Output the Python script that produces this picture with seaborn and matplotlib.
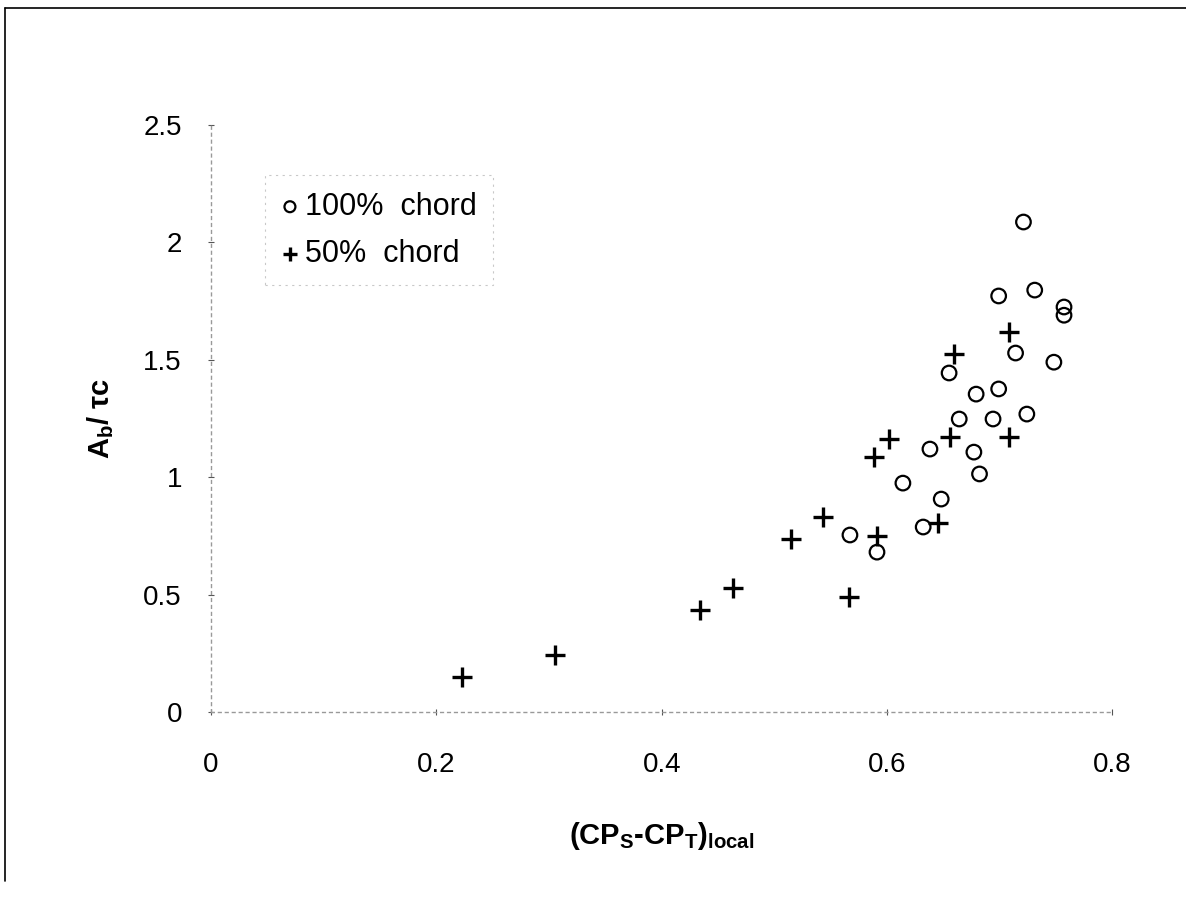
import matplotlib
matplotlib.use("Agg")
import matplotlib.pyplot as plt
import seaborn as sns
import pandas as pd
from matplotlib.lines import Line2D

# 100% chord (circles)
x100 = [0.721, 0.699, 0.731, 0.757, 0.757, 0.714, 0.748, 0.655, 0.679, 0.699,
        0.664, 0.694, 0.724, 0.638, 0.677, 0.682, 0.614, 0.648, 0.567, 0.591, 0.632]
y100 = [2.087, 1.772, 1.797, 1.725, 1.690, 1.529, 1.490, 1.444, 1.354, 1.376,
        1.248, 1.248, 1.269, 1.120, 1.107, 1.014, 0.975, 0.907, 0.754, 0.681, 0.788]

# 50% chord (crosses)
x50 = [0.708, 0.659, 0.602, 0.588, 0.656, 0.708, 0.543, 0.515, 0.463, 0.434,
       0.223, 0.305, 0.591, 0.645, 0.566]
y50 = [1.618, 1.525, 1.163, 1.086, 1.171, 1.171, 0.830, 0.737, 0.528, 0.434,
       0.149, 0.243, 0.750, 0.805, 0.490]

xticks = [0, 0.2, 0.4, 0.6, 0.8]
xticklabels = ["0", "0.2", "0.4", "0.6", "0.8"]
yticks = [0, 0.5, 1, 1.5, 2, 2.5]
yticklabels = ["0", "0.5", "1", "1.5", "2", "2.5"]

sns.set_style("white")
plt.rcParams['font.family'] = ['Liberation Sans', 'DejaVu Sans']
plt.rcParams['mathtext.fontset'] = 'custom'
plt.rcParams['mathtext.rm'] = 'Liberation Sans:bold'
plt.rcParams['mathtext.it'] = 'Liberation Sans:bold'
plt.rcParams['mathtext.bf'] = 'Liberation Sans:bold'
plt.rcParams['text.color'] = 'black'
plt.rcParams['axes.labelcolor'] = 'black'

df100 = pd.DataFrame({"x": x100, "y": y100})
df50 = pd.DataFrame({"x": x50, "y": y50})

fig = plt.figure(figsize=(11.86, 8.97), dpi=100)
ax = fig.add_axes([0.178, 0.2062, 0.760, 0.6544])

sns.scatterplot(data=df100, x="x", y="y", ax=ax, marker="o", s=110,
                facecolors="none", edgecolor="black", linewidth=1.6,
                label="100%  chord")
sns.scatterplot(data=df50, x="x", y="y", ax=ax, marker="+", s=200,
                color="black", linewidth=2.4, label="50%  chord")

ax.set_xlim(0, 0.8)
ax.set_ylim(0, 2.5)
ax.set_xticks(xticks)
ax.set_xticklabels(xticklabels)
ax.set_yticks(yticks)
ax.set_yticklabels(yticklabels)
ax.tick_params(axis="x", labelsize=20, pad=27, length=4, direction="inout",
               color="#555", labelcolor="black")
ax.tick_params(axis="y", labelsize=20, pad=19, length=4, direction="inout",
               color="#555", labelcolor="black")
ax.xaxis.set_ticks_position("bottom")
ax.yaxis.set_ticks_position("left")

for side in ["top", "right"]:
    ax.spines[side].set_visible(False)
for side in ["left", "bottom"]:
    ax.spines[side].set_linestyle((0, (2, 3)))
    ax.spines[side].set_color("#999999")
    ax.spines[side].set_linewidth(1.0)

ax.set_xlabel(r"(CP$_{S}$-CP$_{T}$)$_{local}$", fontsize=21, fontweight="bold", labelpad=30)
ax.set_ylabel(r"A$_{b}$/ τc", fontsize=21, fontweight="bold", labelpad=20)

leg = ax.legend(loc="upper left", bbox_to_anchor=(0.06, 0.915), borderaxespad=0,
                fontsize=22, frameon=True, fancybox=False, handletextpad=0.23,
                handlelength=0.52, borderpad=0.55, labelspacing=0.55, markerscale=0.75)
frame = leg.get_frame()
frame.set_edgecolor("#bbbbbb")
frame.set_linestyle((0, (2, 4)))
frame.set_linewidth(0.8)

# figure border (left and top)
fig.add_artist(Line2D([0.004, 0.004], [0.018, 0.991], color="black", lw=1.2, transform=fig.transFigure))
fig.add_artist(Line2D([0.004, 1.0], [0.991, 0.991], color="black", lw=1.2, transform=fig.transFigure))

fig.savefig("out.png", dpi=100)
